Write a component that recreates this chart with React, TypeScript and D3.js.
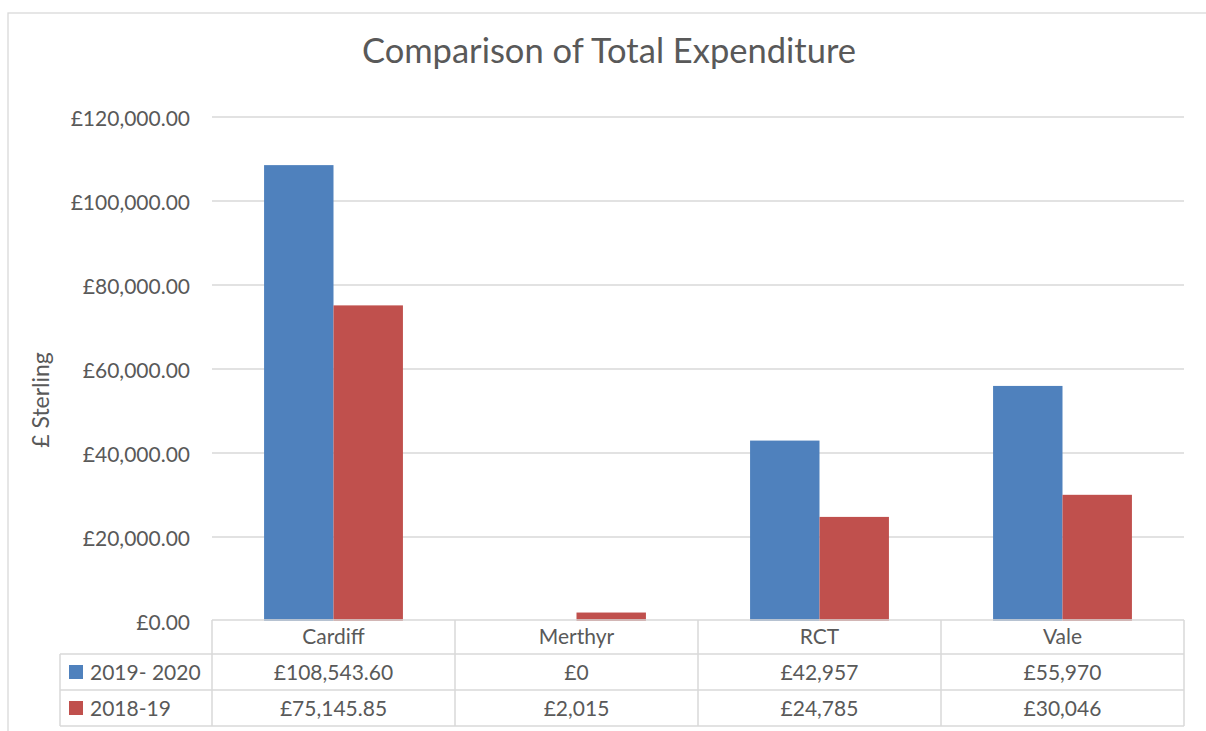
import React from "react";
import * as d3 from "d3";

const categories = ["Cardiff", "Merthyr", "RCT", "Vale"];
const seriesNames = ["2019- 2020", "2018-19"];
const values2019 = [108543.6, 0, 42957, 55970];
const values2018 = [75145.85, 2015, 24785, 30046];
const labels2019 = ["£108,543.60", "£0", "£42,957", "£55,970"];
const labels2018 = ["£75,145.85", "£2,015", "£24,785", "£30,046"];
const yTicks = [0, 20000, 40000, 60000, 80000, 100000, 120000];
const colors = ["#4F81BD", "#C0504D"];

export default function App() {
  const W = 1206, H = 731;
  const left = 212, right = 1184, top = 117, bottom = 621;
  const x = d3.scaleBand<string>().domain(categories).range([left, right]).paddingInner(0).paddingOuter(0);
  const y = d3.scaleLinear().domain([0, 120000]).range([bottom, top]);
  const bw = x.bandwidth() / 3.5;
  const fmt = (v: number) => "£" + d3.format(",.2f")(v);
  const series = [values2019, values2018];
  const labels = [labels2019, labels2018];
  const font = "Lato, 'Open Sans', sans-serif";
  const textCol = "#595959";
  const grid = "#D9D9D9";
  const fs = 21;
  const rowTop = 620, row1 = 654, row2 = 690, row3 = 726;
  const legLeft = 60;
  return (
    <svg width={W} height={H} style={{ position: "absolute", left: 0, top: 0, background: "#fff" }}>
      <rect x={8} y={13} width={1210} height={740} fill="#fff" stroke="#D9D9D9" strokeWidth={1.3} />
      <text x={609} y={63} textAnchor="middle" fontFamily={font} fontSize={34.5} fill={textCol}>
        Comparison of Total Expenditure
      </text>
      {yTicks.map((t) => (
        <g key={t}>
          {t > 0 && <line x1={left} x2={right} y1={y(t)} y2={y(t)} stroke={grid} strokeWidth={1.3} />}
          <text x={190} y={y(t) + 9} textAnchor="end" fontFamily={font} fontSize={fs} fill={textCol}>
            {fmt(t)}
          </text>
        </g>
      ))}
      <text transform={`translate(49,400) rotate(-90)`} textAnchor="middle" fontFamily={font} fontSize={23} fill={textCol}>
        £ Sterling
      </text>
      {categories.map((c, i) =>
        series.map((s, j) => {
          const x0 = (x(c) as number) + x.bandwidth() / 2 - bw + j * bw;
          return (
            <rect key={c + j} x={x0} y={y(s[i])} width={bw} height={bottom - y(s[i])} fill={colors[j]} />
          );
        })
      )}
      {/* data table */}
      <g stroke={grid} strokeWidth={1.5} fill="none">
        <line x1={left} x2={right} y1={rowTop} y2={rowTop} />
        <line x1={legLeft} x2={right} y1={row1} y2={row1} />
        <line x1={legLeft} x2={right} y1={row2} y2={row2} />
        <line x1={legLeft} x2={right} y1={row3} y2={row3} />
        <line x1={legLeft} x2={legLeft} y1={row1} y2={row3} />
        {categories.map((c) => (
          <line key={c} x1={x(c)} x2={x(c)} y1={rowTop} y2={row3} />
        ))}
        <line x1={right} x2={right} y1={rowTop} y2={row3} />
      </g>
      {categories.map((c) => (
        <text key={c} x={(x(c) as number) + x.bandwidth() / 2} y={644} textAnchor="middle" fontFamily={font} fontSize={fs} fill={textCol}>
          {c}
        </text>
      ))}
      {seriesNames.map((n, j) => {
        const cy = j === 0 ? (row1 + row2) / 2 : (row2 + row3) / 2;
        return (
          <g key={n}>
            <rect x={69} y={cy - 7} width={14} height={14} fill={colors[j]} />
            <text x={90} y={cy + 7.5} fontFamily={font} fontSize={fs} fill={textCol}>{n}</text>
            {categories.map((c, i) => (
              <text key={c} x={(x(c) as number) + x.bandwidth() / 2} y={cy + 7.5} textAnchor="middle" fontFamily={font} fontSize={fs} fill={textCol}>
                {labels[j][i]}
              </text>
            ))}
          </g>
        );
      })}
    </svg>
  );
}
